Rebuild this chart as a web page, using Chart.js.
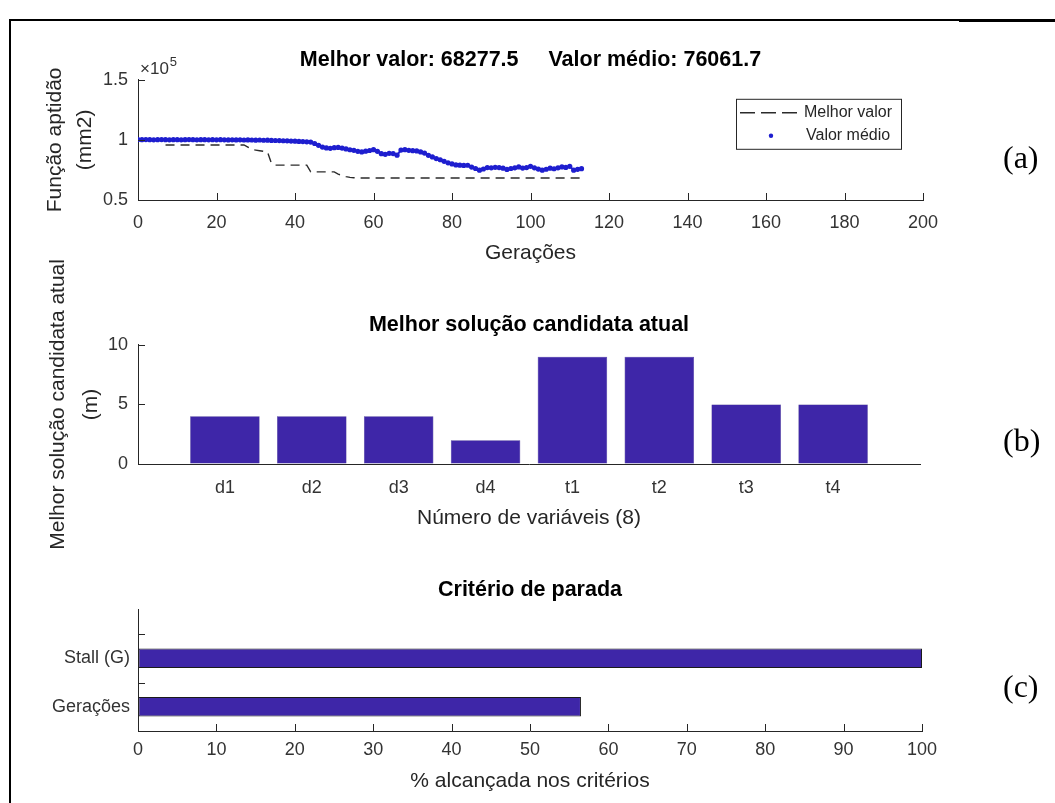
<!DOCTYPE html>
<html lang="pt">
<head>
<meta charset="utf-8">
<title>Algoritmo genético - evolução</title>
<script src="https://cdn.jsdelivr.net/npm/chart.js@4.4.1/dist/chart.umd.min.js"></script>
<style>
  html, body { margin: 0; padding: 0; background: #fff; }
  #page { position: relative; width: 1055px; height: 803px; overflow: hidden; }
  canvas { position: absolute; left: 0; }
  #chartA { top: 30px; }
  #chartB { top: 240px; }
  #chartC { top: 560px; }
  .frame { position: absolute; background: #000; }
  .tag { position: absolute; left: 1003px; font: 32px 'Liberation Serif', 'Times New Roman', serif; line-height: 36px; color: #000; }
</style>
</head>
<body>
<div id="page">
  <div class="frame" style="left:9px; top:19px; width:2px; height:784px;"></div>
  <div class="frame" style="left:9px; top:19px; width:1046px; height:2px;"></div>
  <div class="frame" style="left:959px; top:19px; width:96px; height:3px;"></div>

  <canvas id="chartA" width="1055" height="245"></canvas>
  <canvas id="chartB" width="1055" height="320"></canvas>
  <canvas id="chartC" width="1055" height="243"></canvas>

  <div class="tag" style="top:139px;">(a)</div>
  <div class="tag" style="top:422px;">(b)</div>
  <div class="tag" style="top:668px;">(c)</div>
</div>

<script>
// Values

// (a) fitness per generation (0..113)
const bestValues = [
    100000, 100000, 100000, 100000, 100000, 100000, 100000, 95800, 95800, 95800,
    95800, 95800, 95800, 95800, 95800, 95800, 95800, 95800, 95800, 95800,
    95800, 95800, 95800, 95800, 95800, 95800, 95800, 95800, 94000, 92000,
    91500, 91000, 90500, 90000, 80500, 79000, 79000, 79000, 79000, 79000,
    79000, 79000, 79000, 79000, 73400, 73400, 73400, 73400, 73400, 73400,
    73400, 71500, 70500, 69500, 68800, 68500, 68277.5, 68277.5, 68277.5, 68277.5,
    68277.5, 68277.5, 68277.5, 68277.5, 68277.5, 68277.5, 68277.5, 68277.5, 68277.5, 68277.5,
    68277.5, 68277.5, 68277.5, 68277.5, 68277.5, 68277.5, 68277.5, 68277.5, 68277.5, 68277.5,
    68277.5, 68277.5, 68277.5, 68277.5, 68277.5, 68277.5, 68277.5, 68277.5, 68277.5, 68277.5,
    68277.5, 68277.5, 68277.5, 68277.5, 68277.5, 68277.5, 68277.5, 68277.5, 68277.5, 68277.5,
    68277.5, 68277.5, 68277.5, 68277.5, 68277.5, 68277.5, 68277.5, 68277.5, 68277.5, 68277.5,
    68277.5, 68277.5, 68277.5, 68277.5,
];
const meanValues = [
    100300, 100200, 100300, 100200, 100100, 100200, 100300, 100200, 100100, 100200,
    100200, 100100, 100200, 100300, 100200, 100100, 100200, 100200, 100100, 100200,
    100100, 100200, 100100, 100000, 100100, 100000, 100100, 99900, 100000, 99900,
    99800, 99900, 99700, 99800, 99600, 99500, 99400, 99300, 99200, 99000,
    98900, 98700, 98600, 98400, 98200, 97000, 95500, 94000, 93300, 93000,
    93500, 93700, 93200, 92500, 91800, 91300, 90500, 90000, 90600, 91200,
    91900, 90500, 88500, 88000, 88800, 88600, 87300, 91500, 91900, 91300,
    91000, 90800, 90000, 89000, 87200, 85800, 84500, 83500, 82200, 80900,
    80000, 79200, 79000, 78800, 78900, 77400, 76200, 74800, 75800, 77000,
    76800, 77200, 77000, 76500, 75400, 76200, 76800, 77500, 76600, 77000,
    78000, 76800, 75700, 74800, 75600, 76500, 76000, 76800, 77500, 77100,
    78000, 74800, 75500, 76061.7,
];
const titleA = 'Melhor valor: 68277.5     Valor médio: 76061.7';
const seriesNames = ['Melhor valor', 'Valor médio'];

// (b) current best candidate
const varLabels = ['d1', 'd2', 'd3', 'd4', 't1', 't2', 't3', 't4'];
const varValues = [4, 4, 4, 2, 9, 9, 5, 5];

// (c) stopping criteria, bottom to top
const stopLabels = ['Gerações', 'Stall (G)'];
const stopValues = [56.5, 100];

const FONT = "'Liberation Sans', Arial, Helvetica, sans-serif";
const AXIS = '#262626';
const TICK = '#333333';
const BAR = '#3e26a8';
const DOT = '#1e1ecf';

const tickFont = { family: FONT, size: 18 };
const labelFont = { family: FONT, size: 21 };
const titleFont = { family: FONT, size: 21.5, weight: 'bold' };

// MATLAB style tick marks, pointing into the plot
const innerTicks = {
    id: 'innerTicks',
    afterDatasetsDraw(chart, args, opts) {
        const { ctx, chartArea } = chart;
        const len = 7;
        ctx.save();
        ctx.strokeStyle = AXIS;
        ctx.lineWidth = 1;
        (opts.axes || []).forEach(id => {
            const scale = chart.scales[id];
            const vals = (opts.values && opts.values[id]) || scale.ticks.map(t => t.value);
            vals.forEach(v => {
                const p = Math.round(scale.getPixelForValue(v)) + 0.5;
                ctx.beginPath();
                if (scale.isHorizontal()) {
                    ctx.moveTo(p, chartArea.bottom);
                    ctx.lineTo(p, chartArea.bottom - len);
                } else {
                    ctx.moveTo(chartArea.left, p);
                    ctx.lineTo(chartArea.left + len, p);
                }
                ctx.stroke();
            });
        });
        ctx.restore();
    },
};

// boxed legend inside the top-right corner of plot (a)
const boxLegend = {
    id: 'boxLegend',
    afterDraw(chart, args, opts) {
        if (!opts.show) return;
        const { ctx, chartArea } = chart;
        const w = 165, h = 50;
        const x0 = chartArea.right - 22 - w;
        const y0 = chartArea.top + 19;
        ctx.save();
        ctx.fillStyle = '#fff';
        ctx.fillRect(x0, y0, w, h);
        ctx.strokeStyle = AXIS;
        ctx.lineWidth = 1;
        ctx.strokeRect(x0 + 0.5, y0 + 0.5, w, h);

        // dashed sample
        ctx.strokeStyle = '#2b2b2b';
        ctx.lineWidth = 1.4;
        ctx.setLineDash([15, 6]);
        ctx.beginPath();
        ctx.moveTo(x0 + 4, y0 + 14);
        ctx.lineTo(x0 + 64, y0 + 14);
        ctx.stroke();
        ctx.setLineDash([]);

        // dot sample
        ctx.fillStyle = DOT;
        ctx.beginPath();
        ctx.arc(x0 + 35, y0 + 37, 2.2, 0, Math.PI * 2);
        ctx.fill();

        ctx.fillStyle = AXIS;
        ctx.font = '16px ' + FONT;
        ctx.textBaseline = 'middle';
        ctx.fillText(seriesNames[0], x0 + 68, y0 + 14);
        ctx.fillText(seriesNames[1], x0 + 70, y0 + 37);
        ctx.restore();
    },
};

// "x10^5" multiplier above the y axis of (a)
const expLabel = {
    id: 'expLabel',
    afterDraw(chart, args, opts) {
        if (!opts.show) return;
        const { ctx, chartArea } = chart;
        ctx.save();
        ctx.fillStyle = TICK;
        ctx.textBaseline = 'alphabetic';
        ctx.font = '17px ' + FONT;
        ctx.fillText('\u00d710', chartArea.left + 2, chartArea.top - 6);
        const w = ctx.measureText('\u00d710').width;
        ctx.font = '13px ' + FONT;
        ctx.fillText('5', chartArea.left + 3 + w, chartArea.top - 14);
        ctx.restore();
    },
};

function axisOpts(extra) {
    return Object.assign({
        grid: { drawOnChartArea: false, drawTicks: false },
        border: { display: true, color: AXIS, width: 1 },
    }, extra);
}

// (a) fitness evolution
new Chart(document.getElementById('chartA'), {
    type: 'line',
    data: {
        datasets: [
            {
                label: seriesNames[1],
                data: meanValues.map((v, i) => ({ x: i, y: v })),
                showLine: true,
                borderColor: DOT,
                borderWidth: 2,
                pointRadius: 2.6,
                pointBorderWidth: 0,
                pointBackgroundColor: DOT,
                order: 0,
            },
            {
                label: seriesNames[0],
                data: bestValues.map((v, i) => ({ x: i, y: v })),
                borderColor: '#2b2b2b',
                borderWidth: 1.4,
                borderDash: [9, 6],
                pointRadius: 0,
                fill: false,
                order: 1,
            },
        ],
    },
    options: {
        responsive: false,
        animation: false,
        layout: { padding: { left: 0, right: 132, top: 0, bottom: 0 } },
        plugins: {
            legend: { display: false },
            tooltip: { enabled: false },
            title: {
                display: true, text: titleA, color: '#000', font: titleFont,
                padding: { top: 17, bottom: 7 }, fullSize: false,
            },
            innerTicks: { axes: ['x', 'y'] },
            boxLegend: { show: true },
            expLabel: { show: true },
        },
        scales: {
            x: axisOpts({
                type: 'linear', min: 0, max: 200,
                ticks: { stepSize: 20, padding: 12, color: TICK, font: tickFont },
                title: { display: true, text: 'Gerações', color: AXIS, font: labelFont, padding: { top: 0, bottom: 9 } },
                afterFit: s => { s.height = 75; },
            }),
            y: axisOpts({
                min: 50000, max: 150000,
                ticks: { stepSize: 50000, padding: 10, color: TICK, font: tickFont, callback: v => String(v / 1e5) },
                title: {
                    display: true, text: ['Função aptidão', '(mm2)'], color: AXIS,
                    font: Object.assign({ lineHeight: 1.43 }, labelFont), padding: { top: 40, bottom: 0 },
                },
                afterFit: s => { s.width = 138; },
            }),
        },
    },
    plugins: [innerTicks, boxLegend, expLabel],
});

// (b) best candidate solution
new Chart(document.getElementById('chartB'), {
    type: 'bar',
    data: {
        datasets: [{
            data: varValues.map((v, i) => ({ x: i + 1, y: v })),
            backgroundColor: BAR,
            borderColor: '#2a1880',
            borderWidth: 0.5,
            borderSkipped: false,
            barPercentage: 0.8,
            categoryPercentage: 1,
        }],
    },
    options: {
        responsive: false,
        animation: false,
        layout: { padding: { left: 0, right: 135, top: 0, bottom: 0 } },
        plugins: {
            legend: { display: false },
            tooltip: { enabled: false },
            title: {
                display: true, text: 'Melhor solução candidata atual', color: '#000', font: titleFont,
                padding: { top: 72, bottom: 7 }, fullSize: false,
            },
            innerTicks: { axes: ['y'] },
        },
        scales: {
            x: axisOpts({
                type: 'linear', min: 0, max: 9, offset: false,
                ticks: { stepSize: 1, autoSkip: false, padding: 13, color: TICK, font: tickFont, callback: v => varLabels[v - 1] || '' },
                title: { display: true, text: 'Número de variáveis (8)', color: AXIS, font: labelFont, padding: { top: 0, bottom: 29.4 } },
                afterFit: s => { s.height = 96; },
            }),
            y: axisOpts({
                min: 0, max: 10,
                ticks: { stepSize: 5, padding: 10, color: TICK, font: tickFont },
                title: {
                    display: true, text: ['Melhor solução candidata atual', '(m)'], color: AXIS,
                    font: Object.assign({ lineHeight: 1.6 }, labelFont), padding: { top: 41, bottom: 0 },
                },
                afterFit: s => { s.width = 138; },
            }),
        },
    },
    plugins: [innerTicks],
});

// (c) stopping criteria
new Chart(document.getElementById('chartC'), {
    type: 'bar',
    data: {
        datasets: [{
            data: stopValues.map((v, i) => ({ x: v, y: i + 0.5 })),
            backgroundColor: BAR,
            borderColor: '#1a1a1a',
            borderWidth: 1,
            borderSkipped: false,
            barPercentage: 0.8,
            categoryPercentage: 1,
        }],
    },
    options: {
        indexAxis: 'y',
        responsive: false,
        animation: false,
        layout: { padding: { left: 0, right: 133, top: 0, bottom: 0 } },
        plugins: {
            legend: { display: false },
            tooltip: { enabled: false },
            title: {
                display: true, text: 'Critério de parada', color: '#000', font: titleFont,
                padding: { top: 17, bottom: 7 }, fullSize: false,
            },
            innerTicks: { axes: ['x', 'y'], values: { y: [1, 2] } },
        },
        scales: {
            x: axisOpts({
                type: 'linear', min: 0, max: 100,
                ticks: { stepSize: 10, padding: 8.5, color: TICK, font: tickFont },
                title: { display: true, text: '% alcançada nos critérios', color: AXIS, font: labelFont, padding: { top: 0, bottom: 8.7 } },
                afterFit: s => { s.height = 72; },
            }),
            y: axisOpts({
                type: 'linear', min: 0, max: 2.5, offset: false,
                ticks: {
                    stepSize: 0.5, autoSkip: false, padding: 8, color: TICK, font: tickFont,
                    callback: v => {
                        const k = v - 0.5;
                        return Number.isInteger(k) ? (stopLabels[k] || '') : '';
                    },
                },
                afterFit: s => { s.width = 138; },
            }),
        },
    },
    plugins: [innerTicks],
});
</script>
</body>
</html>
